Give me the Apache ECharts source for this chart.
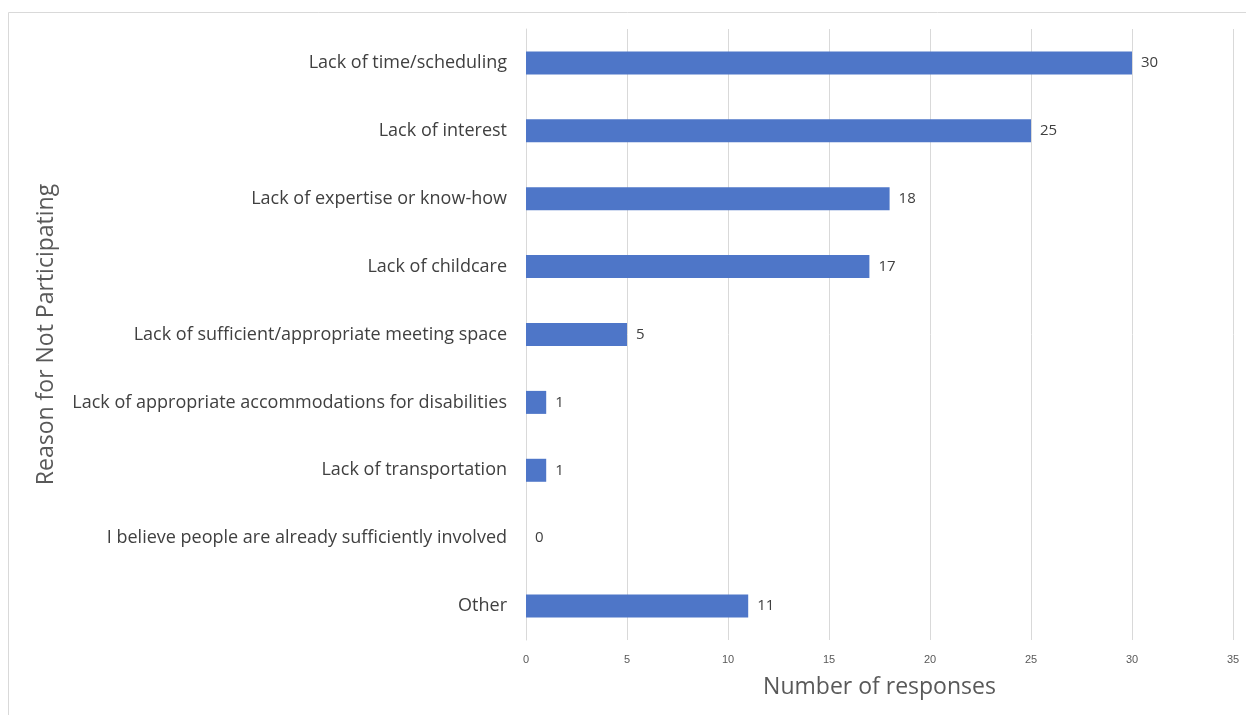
<!DOCTYPE html>
<html><head><meta charset="utf-8">
<script src="https://cdn.jsdelivr.net/npm/echarts@6/dist/echarts.min.js"></script>
<style>html,body{margin:0;padding:0;background:#fff}#c{width:1246px;height:715px}</style>
</head><body><div id="c"></div>
<script>
const categories = [
  "Lack of time/scheduling",
  "Lack of interest",
  "Lack of expertise or know-how",
  "Lack of childcare",
  "Lack of sufficient/appropriate meeting space",
  "Lack of appropriate accommodations for disabilities",
  "Lack of transportation",
  "I believe people are already sufficiently involved",
  "Other"
];
const responses = [30, 25, 18, 17, 5, 1, 1, 0, 11];
const xTicks = [0, 5, 10, 15, 20, 25, 30, 35];

const chart = echarts.init(document.getElementById('c'));
chart.setOption({
  animation: false,
  graphic: [{
    type: 'rect', shape: {x: 8.5, y: 12.5, width: 1400, height: 800},
    style: {fill: 'none', stroke: '#d9d9d9', lineWidth: 1}, silent: true
  }],
  grid: {left: 526, right: 13, top: 29, bottom: 75},
  xAxis: {
    type: 'value', min: xTicks[0], max: xTicks[xTicks.length - 1], interval: 5,
    name: 'Number of responses', nameLocation: 'middle', nameGap: 36,
    nameTextStyle: {fontFamily: 'Open Sans', fontSize: 23, color: '#595959'},
    axisLine: {show: false}, axisTick: {show: false},
    axisLabel: {fontFamily: 'Liberation Sans Narrow, Liberation Sans', fontSize: 11, color: '#595959', margin: 14},
    splitLine: {show: true, lineStyle: {color: '#d9d9d9', width: 1}}
  },
  yAxis: {
    type: 'category', data: categories, inverse: true,
    name: 'Reason for Not Participating', nameLocation: 'middle', nameGap: 468, nameRotate: 90,
    nameTextStyle: {fontFamily: 'Open Sans', fontSize: 23, color: '#595959'},
    axisLine: {show: true, lineStyle: {color: '#d9d9d9'}}, axisTick: {show: false},
    axisLabel: {fontFamily: 'Open Sans', fontSize: 18, color: '#404040', margin: 19}
  },
  series: [{
    type: 'bar', data: responses, barWidth: 23,
    itemStyle: {color: '#4e76c8'},
    label: {show: true, position: 'right', distance: 9, fontFamily: 'Open Sans', fontSize: 15, color: '#404040'}
  }]
});
</script></body></html>
